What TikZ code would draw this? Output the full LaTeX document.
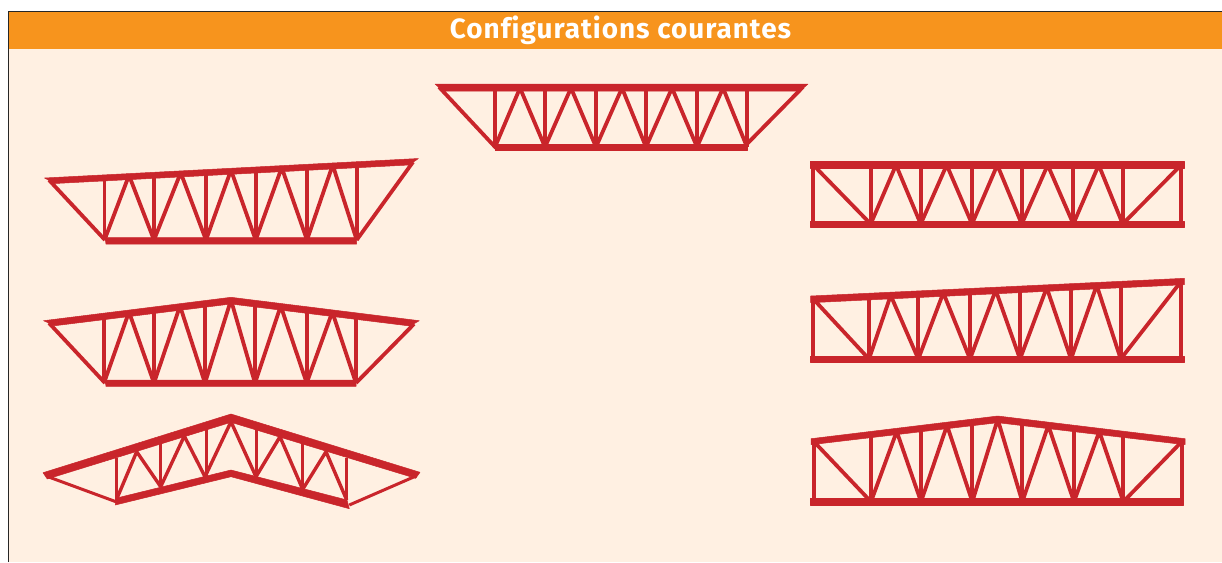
\documentclass[tikz,border=0pt]{standalone}
\usepackage{fontspec}
\newfontfamily\titlefont[LetterSpace=3.6,Ligatures=NoCommon]{Fira Sans}
\definecolor{bandorange}{HTML}{F7941D}
\definecolor{creambg}{HTML}{FFF0E2}
\definecolor{trussred}{HTML}{C9252B}
\tikzset{
  web/.style={draw=trussred,line width=3.8pt,line join=bevel,line cap=butt},
  chord/.style={fill=trussred,draw=trussred,line width=0.5pt,line join=bevel},
}
\begin{document}
\begin{tikzpicture}[x=1pt,y=-1pt]
\useasboundingbox (0,0) rectangle (1222,562);
\fill[white] (0,0) rectangle (1222,562);
\fill[creambg] (8.5,48.5) rectangle (1222,562);
\fill[bandorange] (8.5,11.5) rectangle (1222,48.5);
\draw[black!85,line width=1pt] (8.5,562) -- (8.5,11.5) -- (1222,11.5);
\node[text=white,inner sep=0pt,font=\titlefont\bfseries\fontsize{27.9}{27.9}\selectfont] (title) at (620.5,30) {Configurations courantes};

% Truss A: top centre
\draw[web] (439,87) -- (496,148) (743,148) -- (803,87);
\draw[web] (495,88) -- (495,147) (545,88) -- (545,147) (596,88) -- (596,147) (646,88) -- (646,147) (697,88) -- (697,147) (747,88) -- (747,147);
\draw[web] (495,147) -- (520,88) -- (545,147) -- (571,88) -- (596,147) -- (622,88) -- (646,147) -- (672,88) -- (697,147) -- (723,88) -- (747,147);
\path[chord] (435,84) -- (808,84) -- (800,91) -- (443,91) -- cycle;
\path[chord] (495,144) -- (747,144) -- (747,150.5) -- (495,150.5) -- cycle;

% Truss B: rising top chord
\draw[web] (49,180) -- (105,240) (356.7,240) -- (413,162);
\draw[web] (104.5,176.5) -- (104.5,240) (154,174) -- (154,240) (206,171.4) -- (206,240) (255.7,168.9) -- (255.7,240) (307,166.3) -- (307,240) (356.7,163.8) -- (356.7,240);
\draw[web] (104.5,240) -- (129,175.3) -- (154,240) -- (180.7,172.7) -- (206,240) -- (231,170.1) -- (255.7,240) -- (281.7,167.6) -- (307,240) -- (332.7,165) -- (356.7,240);
\path[chord] (44.5,178) -- (418.5,158.5) -- (409,165) -- (55,183.5) -- cycle;
\path[chord] (105,237.5) -- (356.7,237.5) -- (356.7,244) -- (106,244) -- cycle;

% Truss C: ridged top chord
\draw[web] (49,323) -- (105,383) (356,383) -- (414,324);
\draw[web] (104,314.8) -- (104,383) (154,309) -- (154,383) (205,303) -- (205,383) (255,302.9) -- (255,383) (306.7,309) -- (306.7,383) (356,314.9) -- (356,383);
\draw[web] (104,383) -- (129,311.9) -- (154,383) -- (180,306) -- (205,383) -- (231,300) -- (255,383) -- (280.7,305.9) -- (306.7,383) -- (332.3,312) -- (356,383);
\path[chord] (43.5,320.7) -- (231,297.3) -- (419.3,320.7) -- (410,326) -- (231,304) -- (55,325.7) -- cycle;
\path[chord] (105,380) -- (356,380) -- (356,386.3) -- (106,386.3) -- cycle;

% Truss D: scissor
\draw[trussred,line width=3pt] (48,476.7) -- (116.7,502) (349.3,505) -- (416,476);
\draw[trussred,line width=3pt] (116.7,458) -- (116.7,500) (160,443) -- (160,487) (206,428) -- (206,477) (256,428) -- (256,477) (302.7,443) -- (302.7,489) (346.7,458) -- (346.7,500);
\draw[web,line width=3.4pt] (116.7,499) -- (136.7,451.7) -- (160.7,486.7) -- (184.3,436) -- (205,476.7) -- (231,421.7) -- (256,476.7) -- (280,436.7) -- (302.7,489.3) -- (326,451.7) -- (346.7,500);
\path[chord] (43,472.7) -- (231,414) -- (420,472.3) -- (415.7,478.3) -- (231,422.3) -- (47.3,479) -- cycle;
\path[chord] (115.3,505) -- (116.7,498) -- (231,470) -- (347,500) -- (349.3,508.7) -- (231,476.7) -- cycle;

% Truss E: parallel chords
\draw[web] (813.3,165) -- (870.7,224) (1122.7,224) -- (1181,165);
\draw[web] (813.3,165) -- (813.3,224) (870.7,165) -- (870.7,224) (920.7,165) -- (920.7,224) (972,165) -- (972,224) (1021.7,165) -- (1021.7,224) (1073.3,165) -- (1073.3,224) (1122.7,165) -- (1122.7,224) (1181,165) -- (1181,224);
\draw[web] (870.7,224) -- (896,165) -- (920.7,224) -- (946.7,165) -- (972,224) -- (997.3,165) -- (1021.7,224) -- (1047.7,165) -- (1073.3,224) -- (1098.7,165) -- (1122.7,224);
\path[chord] (810.7,161.5) rectangle (1184.3,168);
\path[chord] (810.7,221) rectangle (1184.3,227.5);

% Truss F: rising top chord, square ends
\draw[web] (813.3,299) -- (869,359) (1120.7,359) -- (1181,281.5);
\draw[web] (813.3,299) -- (813.3,359) (869,296.4) -- (869,359) (918.3,294) -- (918.3,359) (970,291.5) -- (970,359) (1020,289) -- (1020,359) (1071,286.5) -- (1071,359) (1120.7,284.1) -- (1120.7,359) (1181,281.2) -- (1181,359);
\draw[web] (869,359) -- (890.7,295.4) -- (918.3,359) -- (943.3,292.8) -- (970,359) -- (995.7,290.2) -- (1020,359) -- (1046.7,287.7) -- (1071,359) -- (1096.7,285.3) -- (1120.7,359);
\path[chord] (810.7,296) -- (1184.3,278.3) -- (1184.3,284.7) -- (810.7,302.7) -- cycle;
\path[chord] (810.7,355.8) rectangle (1184.3,362.2);

% Truss G: ridged top chord, square ends
\draw[web] (814,441.7) -- (871,501.7) (1123.3,501.7) -- (1181.7,441.7);
\draw[web] (814,441.7) -- (814,501.7) (871,434.5) -- (871,501.7) (921,428.5) -- (921,501.7) (972.3,422.3) -- (972.3,501.7) (1022.3,422.2) -- (1022.3,501.7) (1074,428.4) -- (1074,501.7) (1123.3,434.3) -- (1123.3,501.7) (1181.7,441.7) -- (1181.7,501.7);
\draw[web] (871,501.7) -- (896.7,431.4) -- (921,501.7) -- (947,425.4) -- (972.3,501.7) -- (997.7,419.3) -- (1022.3,501.7) -- (1048.3,425.4) -- (1074,501.7) -- (1099.3,431.5) -- (1123.3,501.7);
\path[chord] (811,438.7) -- (997.7,416) -- (1185,438.7) -- (1185,444.7) -- (997.7,422.7) -- (811,444.7) -- cycle;
\path[chord] (810,498.5) rectangle (1183.3,504.9);
\end{tikzpicture}
\end{document}
